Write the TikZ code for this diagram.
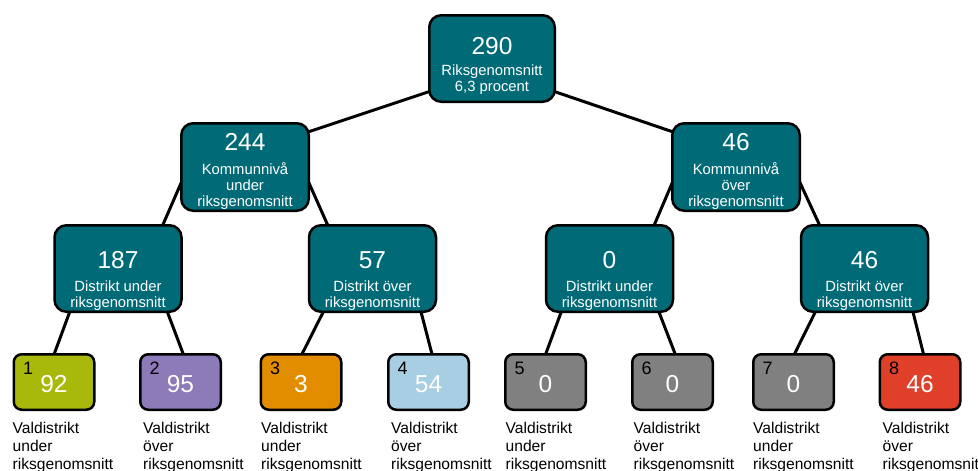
\documentclass[tikz,border=0pt]{standalone}
\usepackage{fontspec}
\setmainfont{Liberation Sans}
\usetikzlibrary{calc,backgrounds}
\definecolor{tealbox}{HTML}{006B77}
\definecolor{cone}{HTML}{A9B90B}
\definecolor{ctwo}{HTML}{8C7AB9}
\definecolor{cthree}{HTML}{E28C00}
\definecolor{cfour}{HTML}{A7CEE2}
\definecolor{cgray}{HTML}{808080}
\definecolor{ceight}{HTML}{E0402A}
\newcommand{\numfont}{\fontsize{24.5}{28}\selectfont}
\begin{document}
\begin{tikzpicture}[x=1pt,y=-1pt,
  box/.style={draw=black, line width=2.5pt, rounded corners=12pt, fill=tealbox, inner sep=0pt},
  leafbox/.style={draw=black, line width=2.5pt, rounded corners=8pt, inner sep=0pt,
                  minimum width=80.5pt, minimum height=55.5pt},
  conn/.style={draw=black, line width=3pt},
  boxtxt/.style={text=white, align=center, anchor=base, inner sep=0pt,
                 font=\fontsize{14.8}{16}\selectfont},
  leafnum/.style={text=white, anchor=base, inner sep=0pt, font=\numfont},
  smallnum/.style={text=black, anchor=base west, inner sep=0pt, font=\fontsize{18}{20}\selectfont},
  leaftxt/.style={text=black, align=left, anchor=base west, inner sep=0pt,
                  font=\fontsize{15.6}{18}\selectfont}
]
\useasboundingbox (0,0) rectangle (978,471);

% upper levels
\node[box, minimum width=125.5pt, minimum height=86.5pt] (n0) at (492,58.5) {};
\node[box, minimum width=127.5pt, minimum height=87.5pt] (n1) at (245,167) {};
\node[box, minimum width=127.5pt, minimum height=87.5pt] (n2) at (736,167) {};
\node[box, minimum width=127pt, minimum height=86.5pt] (n3) at (118,268.5) {};
\node[box, minimum width=127pt, minimum height=86.5pt] (n4) at (372.5,268.5) {};
\node[box, minimum width=127pt, minimum height=86.5pt] (n5) at (609.5,268.5) {};
\node[box, minimum width=127pt, minimum height=86.5pt] (n6) at (864.5,268.5) {};

% texts (anchor base = baseline of the last line)
\node[boxtxt] (t0) at (492,91) {{\numfont 290}\\[5pt]Riksgenomsnitt\\6,3 procent};
\node[boxtxt] (t1) at (245,206) {{\numfont 244}\\[8pt]Kommunnivå\\under\\riksgenomsnitt};
\node[boxtxt] (t2) at (736,206) {{\numfont 46}\\[8pt]Kommunnivå\\över\\riksgenomsnitt};
\node[boxtxt] (t3) at (118,307) {{\numfont 187}\\[7pt]Distrikt under\\riksgenomsnitt};
\node[boxtxt] (t4) at (372.5,307) {{\numfont 57}\\[7pt]Distrikt över\\riksgenomsnitt};
\node[boxtxt] (t5) at (609.5,307) {{\numfont 0}\\[7pt]Distrikt under\\riksgenomsnitt};
\node[boxtxt] (t6) at (864.5,307) {{\numfont 46}\\[7pt]Distrikt över\\riksgenomsnitt};

% leaves
\foreach \i/\x/\c/\v/\w/\dx in {1/54/cone/92/under/0, 2/180.5/ctwo/95/över/4,
    3/301/cthree/3/under/1.5, 4/428.5/cfour/54/över/4, 5/545.5/cgray/0/under/1.5,
    6/672.5/cgray/0/över/2.5, 7/793.5/cgray/0/under/1, 8/920/ceight/46/över/4}{
  \node[leafbox, fill=\c] (b\i) at (\x,382) {};
  \node[leafnum] (v\i) at (\x,392) {\v};
  \node[smallnum] (k\i) at ($(b\i.north west)+(10.5,21)$) {\i};
  \node[leaftxt] (l\i) at ($(b\i.south west)+(\dx,58.5)$) {Valdistrikt\\\w\\riksgenomsnitt};
}

% connectors
\begin{pgfonlayer}{background}
\draw[conn] ($(n0.south west)+(12,-15)$) -- ($(n1.north east)+(-14,14)$);
\draw[conn] ($(n0.south east)+(-12,-15)$) -- ($(n2.north west)+(14,14)$);
\draw[conn] ($(n1.south west)+(5,-38)$) -- ($(n3.north east)+(-23,8)$);
\draw[conn] ($(n1.south east)+(-5,-38)$) -- ($(n4.north west)+(23,8)$);
\draw[conn] ($(n2.south west)+(5,-38)$) -- ($(n5.north east)+(-23,8)$);
\draw[conn] ($(n2.south east)+(-5,-38)$) -- ($(n6.north west)+(23,8)$);
\draw[conn] ($(n3.south west)+(19,-8)$) -- ($(b1.north)+(-2,7)$);
\draw[conn] ($(n3.south east)+(-18,-8)$) -- ($(b2.north)+(5,7)$);
\draw[conn] ($(n4.south west)+(19,-8)$) -- ($(b3.north)+(-2,7)$);
\draw[conn] ($(n4.south east)+(-18,-8)$) -- ($(b4.north)+(5,7)$);
\draw[conn] ($(n5.south west)+(19,-8)$) -- ($(b5.north)+(-2,7)$);
\draw[conn] ($(n5.south east)+(-18,-8)$) -- ($(b6.north)+(5,7)$);
\draw[conn] ($(n6.south west)+(19,-8)$) -- ($(b7.north)+(-2,7)$);
\draw[conn] ($(n6.south east)+(-18,-8)$) -- ($(b8.north)+(5,7)$);
\end{pgfonlayer}
\end{tikzpicture}
\end{document}
